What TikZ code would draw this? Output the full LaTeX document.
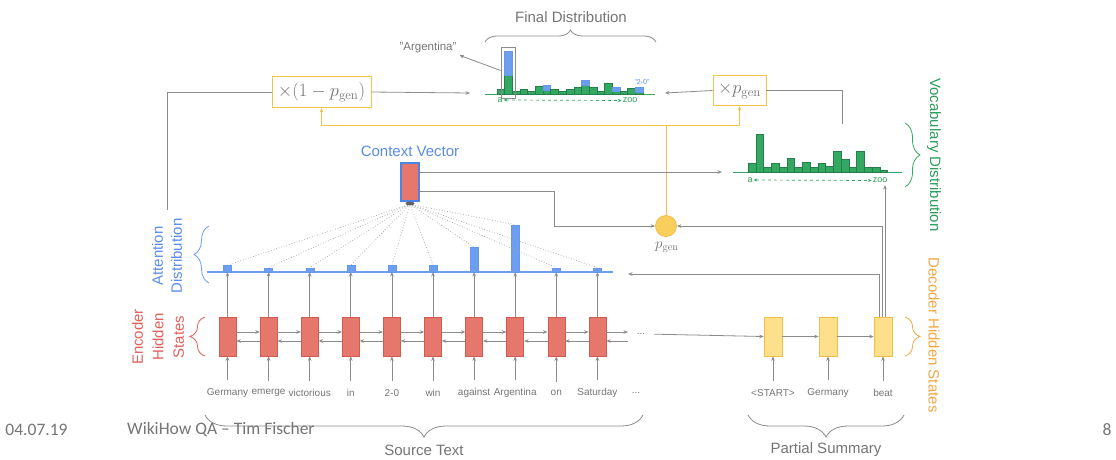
\RequirePackage{fix-cm}
\documentclass[tikz,border=0pt]{standalone}
\usepackage[no-math]{fontspec}
\setmainfont{Liberation Sans}
\newfontfamily\footfont{Carlito}
\usetikzlibrary{arrows.meta,decorations.pathreplacing,calc}

\definecolor{linegray}{HTML}{8C8C8C}
\definecolor{textgray}{HTML}{757575}
\definecolor{gold}{HTML}{F4C24A}
\definecolor{decfill}{HTML}{FCE08C}
\definecolor{decedge}{HTML}{F2BE45}
\definecolor{pgfillc}{HTML}{F9CF5C}
\definecolor{encfill}{HTML}{E5776C}
\definecolor{encedge}{HTML}{D35A50}
\definecolor{cvblue}{HTML}{4A86E8}
\definecolor{attblue}{HTML}{6D9EEF}
\definecolor{txtblue}{HTML}{5B8CEB}
\definecolor{vgreen}{HTML}{33A862}
\definecolor{txtgreen}{HTML}{2E9D5A}
\definecolor{txtorange}{HTML}{F2A744}
\definecolor{txtred}{HTML}{E0605A}

\begin{document}
\begin{tikzpicture}[x=1pt,y=-1pt,
  conn/.style={draw=linegray,line width=0.8pt},
  arr/.style={conn,-{Stealth[length=4.5pt,width=3.6pt]}},
  goldline/.style={draw=gold,line width=1pt},
  goldarr/.style={goldline,-{Stealth[length=4.5pt,width=3.6pt]}},
  lbl/.style={font=\fontsize{15}{18}\selectfont,inner sep=1pt},
  word/.style={font=\fontsize{10}{12}\selectfont,text=textgray,inner sep=1pt},
  encbox/.style={draw=encedge,fill=encfill,line width=0.6pt,minimum width=17pt,minimum height=39pt,inner sep=0pt},
  decbox/.style={draw=decedge,fill=decfill,line width=0.6pt,minimum width=18pt,minimum height=39pt,inner sep=0pt},
  mulbox/.style={draw=gold,fill=white,line width=0.9pt,inner sep=2pt,text=textgray,font=\fontsize{18.5}{20}\selectfont},
  attbar/.style={draw=cvblue!85,fill=attblue,line width=0.4pt,minimum width=8pt,inner sep=0pt},
  bargreen/.style={draw=vgreen!75!black,fill=vgreen,line width=0.4pt},
  barblue/.style={draw=cvblue!85,fill=attblue,line width=0.4pt},
  dotline/.style={draw=linegray!80,line width=0.7pt,dotted},
  curly/.style={decorate,decoration={brace,amplitude=#1},line width=0.8pt},
  axisarrow/.style={draw=vgreen,line width=0.7pt,dashed,{Stealth[length=3.5pt,width=3pt]}-{Stealth[length=3.5pt,width=3pt]}},
  greentext/.style={text=txtgreen,font=\fontsize{9}{10}\selectfont,inner sep=1pt},
  foot/.style={text=textgray,font=\footfont\fontsize{17.5}{20}\selectfont,inner sep=0pt}
]
\useasboundingbox[fill=white] (0,0) rectangle (1116,459);

% ---------- final distribution ----------
\node[lbl,text=textgray] (fdtitle) at (571,17) {Final Distribution};
\draw[curly=12pt,draw=linegray] (485,42) -- (656,42);
\draw[draw=vgreen,line width=1pt] (485,94.5) -- (655,94.5);
\foreach \g/\b [count=\i from 0] in {5/0,19/24,3/0,5/0,3/0,8/0,4/5,5/0,3/0,5/0,7/0,9/5,7/0,3/0,11/0,3/4,3/0,6/0,2/5} {
  \pgfmathsetmacro\xl{496.7+7.7*\i}
  \filldraw[bargreen] (\xl,94.5) rectangle ++(7.7,-\g);
  \ifnum\b>0
    \filldraw[barblue] (\xl,94.5-\g) rectangle ++(7.7,-\b);
  \fi
}
\node[draw=linegray,line width=0.8pt,minimum width=14pt,minimum height=51pt,inner sep=0pt] (argfr) at (508,72.5) {};
\node[word,font=\fontsize{11.5}{13}\selectfont] (argtxt) at (428,48) {"Argentina"};
\draw[arr,shorten >=2pt] ([yshift=2pt]argfr.west) -- (argtxt.south east);
\node[text=txtblue,font=\fontsize{7}{8}\selectfont,inner sep=0pt] (twoz) at (642,82) {"2-0"};
\node[greentext] (fda) at (500,100) {a};
\node[greentext] (fdz) at (630,100.5) {zoo};
\draw[axisarrow] (fda.east) -- (fdz.west);

% ---------- multiplier boxes ----------
\node[mulbox,minimum width=99pt,minimum height=31pt] (m1) at (321.5,92) {$\times(1-p_{\mathrm{gen}})$};
\node[mulbox,minimum width=53pt,minimum height=30pt] (m2) at (739.5,90.5) {$\times p_{\mathrm{gen}}$};
\coordinate (fdin1) at (470,93);
\coordinate (fdin2) at (665,93);
\draw[arr] (m1.east) -- (fdin1);
\draw[arr] (m2.west) -- (fdin2);
\coordinate (atttop) at (167,210);
\draw[conn] (m1.west) -| (atttop);
\coordinate (voctop) at (842,124);
\draw[conn] (m2.east) -| (voctop);

% ---------- vocabulary distribution ----------
\draw[draw=vgreen,line width=1pt] (733,172) -- (902,172);
\foreach \h [count=\i from 0] in {9,38,5,9,5,14,5,10,5,9,6,21,13,5,21,5,5,2} {
  \pgfmathsetmacro\xl{748+7.75*\i}
  \filldraw[bargreen] (\xl,172) rectangle ++(7.75,-\h);
}
\node[greentext] (vda) at (750,180) {a};
\node[greentext] (vdz) at (880,180.5) {zoo};
\draw[axisarrow] (vda.east) -- (vdz.west);
\draw[curly=15pt,draw=vgreen] (905,123) -- (905,187);
\node[lbl,text=txtgreen,rotate=-90] (vdlab) at (934,155) {Vocabulary Distribution};

% ---------- p_gen ----------
\node[circle,draw=decedge,fill=pgfillc,line width=0.8pt,minimum size=21pt,inner sep=0pt] (pg) at (666,226) {};
\node[text=textgray,font=\fontsize{15}{18}\selectfont,inner sep=0pt] (pglab) at (667,247) {$p_{\mathrm{gen}}$};
\coordinate (yj) at (666,125);
\draw[goldline] (pg.north) -- (yj);
\draw[goldarr] (yj) -| (m1.south);
\draw[goldarr] (yj) -| (m2.south);

% ---------- context vector ----------
\node[lbl,text=txtblue] (cvlab) at (410,151) {Context Vector};
\node[draw=cvblue,fill=encfill,line width=2.4pt,minimum width=18pt,minimum height=38pt,inner sep=0pt] (cv) at (410,182) {};
\coordinate (vocin) at (722,172);
\draw[arr] ([yshift=10pt]cv.east) -- (vocin);
\coordinate (cvbend) at (554,191);
\draw[arr] ([yshift=-9pt]cv.east) -- (cvbend) |- (pg.west);

% ---------- attention distribution ----------
\draw[draw=attblue,line width=1.1pt] (207,272) -- (613,272);
\foreach \h [count=\i] in {6.5,4,4,6.5,6.5,6.5,24.5,47,4,4} {
  \node[attbar,minimum height=\h pt,anchor=south] (a\i) at ({227.5+41.1*(\i-1)},272) {};
}
\foreach \i in {1,...,10} {
  \draw[dotline] ([yshift=-2pt]cv.south) -- (a\i.north);
}
\fill[linegray!70!black] (410,203.5) ellipse (4.5pt and 2pt);
\draw[curly=15pt,draw=attblue] (209,283) -- (209,226);
\node[lbl,text=txtblue,rotate=90,align=center,font=\fontsize{15}{19}\selectfont] (attlab) at (167,256) {Attention\\Distribution};

% ---------- encoder ----------
\foreach \w [count=\i] in {Germany,emerge,victorious,in,2-0,win,against,Argentina,on,Saturday} {
  \node[encbox] (e\i) at ({227.5+41.1*(\i-1)},336.5) {};
  \node[word] (w\i) at ({227.5+41.1*(\i-1)},393) {\w};
  \draw[arr,shorten <=7pt] (w\i.north) -- (e\i.south);
  \draw[arr] (e\i.north) -- (a\i.south);
}
\foreach \i in {1,...,9} {
  \pgfmathtruncatemacro\j{\i+1}
  \draw[arr] ([yshift=4.5pt]e\i.east) -- ([yshift=4.5pt]e\j.west);
  \draw[arr] ([yshift=-4.5pt]e\j.west) -- ([yshift=-4.5pt]e\i.east);
}
\coordinate (encr1) at (628,332);
\coordinate (encr2) at (628,341);
\draw[arr] ([yshift=4.5pt]e10.east) -- (encr1);
\draw[arr] (encr2) -- ([yshift=-4.5pt]e10.east);
\node[word] (wdots) at (636,393) {...};
\node[word] (edots) at (641,334) {...};
\draw[curly=15pt,draw=txtred] (205,356) -- (205,317);
\node[lbl,text=txtred,rotate=90,align=center,font=\fontsize{15}{20.5}\selectfont] (enclab) at (158,337) {Encoder\\Hidden\\States};

% ---------- decoder ----------
\foreach \w/\x [count=\i] in {<START>/773,Germany/828,beat/883} {
  \node[decbox] (d\i) at (\x,336.5) {};
  \node[word] (dw\i) at (\x,393) {\w};
  \draw[arr,shorten <=7pt] (dw\i.north) -- (d\i.south);
}
\draw[arr,shorten <=8pt] (edots.east) -- (d1.west);
\draw[arr] (d1.east) -- (d2.west);
\draw[arr] (d2.east) -- (d3.west);
\coordinate (attin) at (628,274);
\coordinate (vocbot) at (885,185);
\draw[arr] ([xshift=-4pt]d3.north) |- (attin);
\draw[arr] ([xshift=-1pt]d3.north) |- (pg.east);
\draw[arr] ([xshift=2pt]d3.north) -- (vocbot);
\draw[curly=15pt,draw=txtorange] (905,317) -- (905,356);
\node[lbl,text=txtorange,rotate=-90] (declab) at (934,335) {Decoder Hidden States};

% ---------- bottom braces ----------
\draw[curly=22pt,draw=linegray] (643,415) -- (205,415);
\node[lbl,text=textgray] (srclab) at (424,450) {Source Text};
\draw[curly=22pt,draw=linegray] (904,415) -- (748,415);
\node[lbl,text=textgray] (sumlab) at (826,450) {Partial Summary};

% ---------- footer ----------
\node[foot] (fdate) at (36.5,430) {04.07.19};
\node[foot,anchor=west] (ftitle) at (127,430) {WikiHow QA – Tim Fischer};
\node[foot] (fpage) at (1107,430) {8};
\end{tikzpicture}
\end{document}
